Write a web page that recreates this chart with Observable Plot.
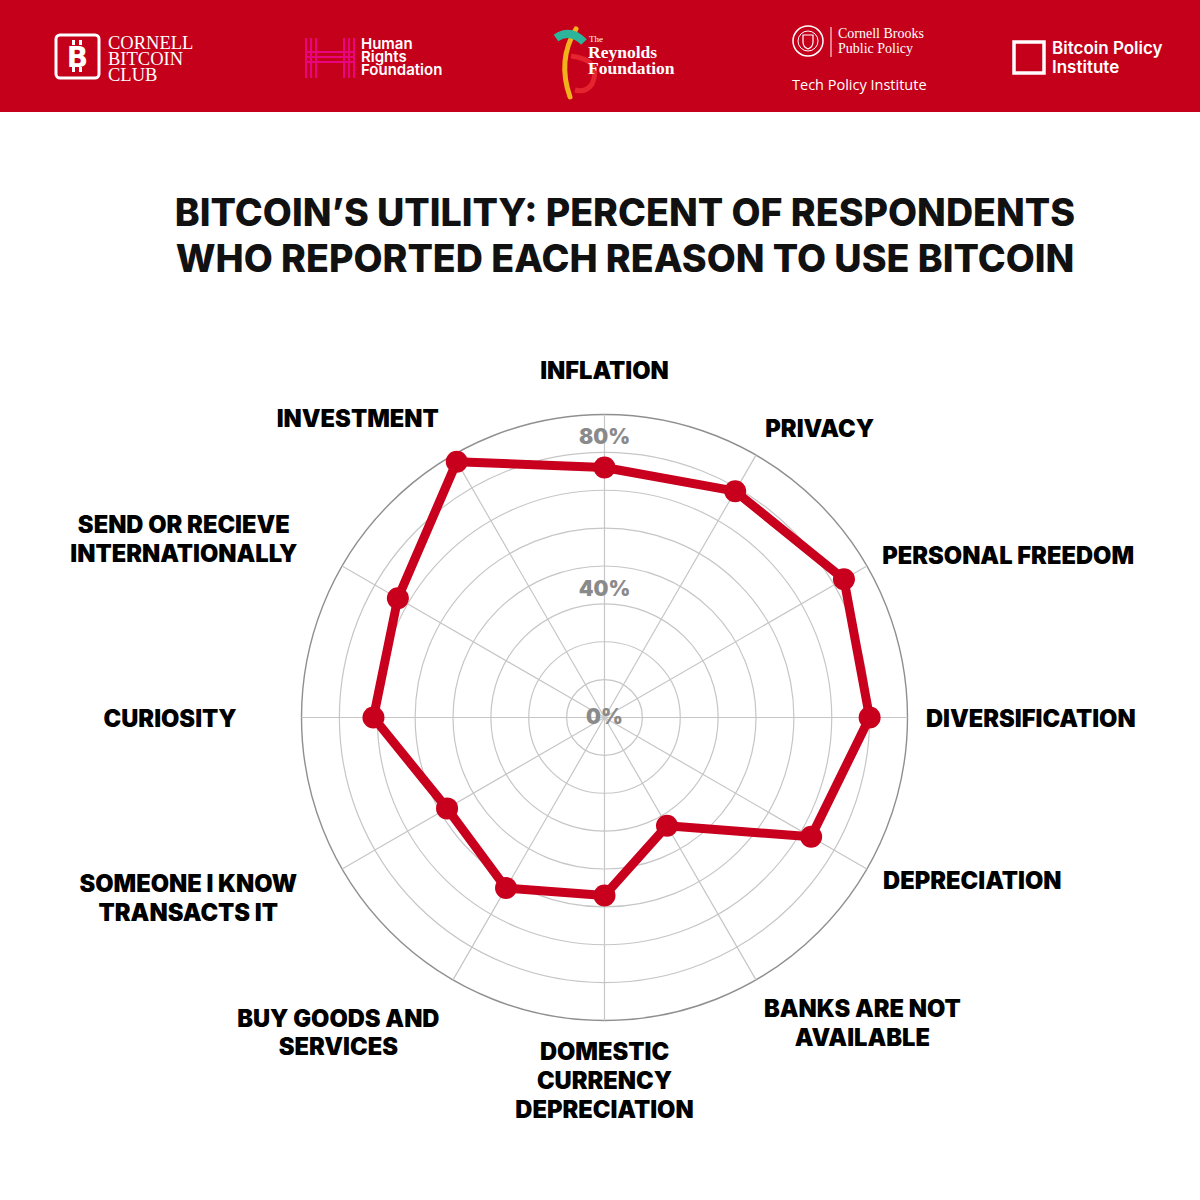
<!DOCTYPE html>
<html>
<head>
<meta charset="utf-8">
<script src="https://cdn.jsdelivr.net/npm/d3@7"></script>
<script src="https://cdn.jsdelivr.net/npm/@observablehq/plot@0.6"></script>
<style>
  html, body { margin: 0; padding: 0; background: #fff; }
  body { width: 1200px; height: 1200px; overflow: hidden; position: relative; font-family: Inter, "Noto Sans", sans-serif; }
  #header { position: absolute; left: 0; top: 0; }
  #title { position: absolute; left: 0; top: 190px; width: 1150px; padding-left: 50px; text-align: center; color: #111;
           font-family: Inter, "Noto Sans", sans-serif; font-weight: 800; line-height: 46px; }
  #chart { position: absolute; left: 0; top: 300px; }
  g[aria-label="category-labels"] text { letter-spacing: -0.02em; }
</style>
</head>
<body>
<svg id="header" width="1200" height="112" xmlns="http://www.w3.org/2000/svg">
  <rect width="1200" height="112" fill="#c5001a"/>
  <!-- Cornell Bitcoin Club -->
  <rect x="56" y="35" width="43" height="43" rx="4" fill="none" stroke="#fff" stroke-width="3"/>
  <text x="77.5" y="67" text-anchor="middle" font-family="'DejaVu Sans', sans-serif" font-weight="bold" font-size="28" fill="#fff">B</text>
  <rect x="72" y="40" width="3" height="5" fill="#fff"/><rect x="79" y="40" width="3" height="5" fill="#fff"/>
  <rect x="72" y="67" width="3" height="5" fill="#fff"/><rect x="79" y="67" width="3" height="5" fill="#fff"/>
  <text font-family="'Liberation Serif', serif" font-size="18.5" fill="#fff">
    <tspan x="108" y="49">CORNELL</tspan><tspan x="108" y="65">BITCOIN</tspan><tspan x="108" y="81">CLUB</tspan>
  </text>
  <!-- Human Rights Foundation -->
  <g fill="#e8057f">
    <rect x="305" y="38" width="2" height="40"/><rect x="310" y="38" width="2" height="40"/><rect x="315" y="38" width="2" height="40"/>
    <rect x="343" y="38" width="2" height="40"/><rect x="348" y="38" width="2" height="40"/><rect x="353" y="38" width="2" height="40"/>
    <rect x="305" y="51" width="50" height="2"/><rect x="305" y="56" width="50" height="2"/><rect x="305" y="61" width="50" height="2"/>
  </g>
  <text font-family="Inter, sans-serif" font-weight="600" font-size="15" fill="#fff">
    <tspan x="361" y="49">Human</tspan><tspan x="361" y="62">Rights</tspan><tspan x="361" y="75">Foundation</tspan>
  </text>
  <!-- Reynolds Foundation -->
  <path d="M576,29 Q557,60 570,97" fill="none" stroke="#f2b21b" stroke-width="5" stroke-linecap="round"/>
  <path d="M571,56 Q603,60 592,84 Q586,93 575,90" fill="none" stroke="#e4242f" stroke-width="5"/>
  <path d="M556,38 Q570,28 584,42" fill="none" stroke="#2db59b" stroke-width="8"/>
  <text font-family="'Liberation Serif', serif" fill="#fff">
    <tspan x="589" y="42" font-size="9">The</tspan>
    <tspan x="588" y="58" font-size="17.5" font-weight="bold">Reynolds</tspan>
    <tspan x="588" y="74" font-size="17.5" font-weight="bold">Foundation</tspan>
  </text>
  <!-- Cornell Brooks -->
  <circle cx="808" cy="41" r="15" fill="none" stroke="#fff" stroke-width="1.5"/>
  <circle cx="808" cy="41" r="10" fill="none" stroke="#fff" stroke-width="1"/>
  <path d="M803,35 L813,35 L813,42 Q813,47 808,49 Q803,47 803,42 Z" fill="none" stroke="#fff" stroke-width="1.2"/>
  <line x1="831" y1="27" x2="831" y2="57" stroke="#fff" stroke-width="1"/>
  <text font-family="'Liberation Serif', serif" font-size="14" fill="#fff">
    <tspan x="838" y="38">Cornell Brooks</tspan><tspan x="838" y="53">Public Policy</tspan>
  </text>
  <text x="792" y="90" font-family="'Open Sans', sans-serif" font-size="14.5" fill="#fff">Tech Policy Institute</text>
  <!-- Bitcoin Policy Institute -->
  <rect x="1014" y="42" width="30" height="31" fill="none" stroke="#fff" stroke-width="3.5"/>
  <text font-family="Inter, sans-serif" font-weight="600" font-size="17" fill="#fff">
    <tspan x="1052" y="54">Bitcoin Policy</tspan><tspan x="1052" y="73">Institute</tspan>
  </text>
</svg>

<div id="title"></div>
<div id="chart"></div>

<script>
// ---------- data ----------
const titleLines = ["BITCOIN’S UTILITY: PERCENT OF RESPONDENTS", "WHO REPORTED EACH REASON TO USE BITCOIN"];
const categories = [
  "INFLATION", "PRIVACY", "PERSONAL FREEDOM", "DIVERSIFICATION", "DEPRECIATION",
  "BANKS ARE NOT\nAVAILABLE", "DOMESTIC\nCURRENCY\nDEPRECIATION", "BUY GOODS AND\nSERVICES",
  "SOMEONE I KNOW\nTRANSACTS IT", "CURIOSITY", "SEND OR RECIEVE\nINTERNATIONALLY", "INVESTMENT"
];
const percents = [66, 69, 73, 70, 63, 33, 47, 52, 48, 61, 63, 78];
const rings = [10, 20, 30, 40, 50, 60, 70];
const outerRing = [80];
const tickValues = [0, 40, 80];
const tickLabels = ["0%", "40%", "80%"];

// ---------- layout ----------
const RED = "#c8001e";
const maxV = 80, radiusPx = 303, cxPx = 604, cyPx = 417;
const k = radiusPx / maxV;
const rad = a => a * Math.PI / 180;
const step = 360 / categories.length;

const canvas = document.createElement("canvas");
const ctx = canvas.getContext("2d");
function measure(t, weight, size, family, lsEm) {
  ctx.font = `${weight} ${size}px ${family}`;
  return ctx.measureText(t).width + t.length * lsEm * size;
}

// Title
const titleFamily = "Inter, 'Noto Sans', sans-serif";
const tw = measure(titleLines[1], 800, 100, titleFamily, 0);
const titleSize = 100 * 899 / tw;
const titleEl = document.getElementById("title");
titleEl.style.fontSize = titleSize + "px";
titleEl.innerHTML = titleLines.join("<br>");

// Category labels font
const labelFamily = "Inter, Lato, 'DejaVu Sans', sans-serif";
const lsEm = -0.02;
const labelSize = 0.97 * 21 * 252 / measure("PERSONAL FREEDOM", 900, 21, labelFamily, lsEm);
const linePx = 29;

const rows = categories.map((c, i) => {
  const a = rad(i * step);
  return {category: c, value: percents[i], x: percents[i] * Math.sin(a), y: percents[i] * Math.cos(a),
          sx: Math.sin(a), sy: -Math.cos(a)};
});

const labelRows = rows.map(d => {
  const lines = d.category.split("\n");
  const w = Math.max(...lines.map(l => measure(l, 900, labelSize, labelFamily, lsEm)));
  const h = (lines.length - 1) * linePx + 0.72 * labelSize;
  const hx = d.sx > 0.2 ? 1 : d.sx < -0.2 ? -1 : 0;
  const hy = d.sy > 0.6 ? 1 : d.sy < -0.6 ? -1 : 0;
  const R0 = 325 + 45 * Math.pow(Math.max(0, -d.sx), 2) + (hx === 0 && hy === -1 ? 14 : 0);
  const px = R0 * d.sx + hx * w / 2;
  const py = R0 * d.sy + hy * h / 2;
  return {text: d.category, x: px / k, y: -py / k};
});

const spokes = rows.map(d => ({x2: maxV * d.sx, y2: -maxV * d.sy}));

const chart = Plot.plot({
  width: 1200,
  height: 900,
  margin: 0,
  style: {fontFamily: labelFamily, background: "transparent"},
  x: {domain: [-maxV, maxV], range: [cxPx - radiusPx, cxPx + radiusPx], axis: null},
  y: {domain: [-maxV, maxV], range: [cyPx + radiusPx, cyPx - radiusPx], axis: null},
  r: {type: "linear", domain: [0, maxV], range: [0, radiusPx]},
  marks: [
    Plot.dot(rings, {x: d => 0, y: d => 0, r: d => d, fill: "none", stroke: "#c6c6c6", strokeWidth: 1.2}),
    Plot.dot(outerRing, {x: d => 0, y: d => 0, r: d => d, fill: "none", stroke: "#8f8f8f", strokeWidth: 1.4}),
    Plot.link(spokes, {x1: d => 0, y1: d => 0, x2: "x2", y2: "y2", stroke: "#c6c6c6", strokeWidth: 1.2}),
    Plot.text(tickValues.filter(v => v === 0), {x: d => 0, y: d => d, text: d => tickLabels[tickValues.indexOf(d)],
      fill: "#8a8a8a", fontSize: 21, fontWeight: 900, lineAnchor: "middle", textAnchor: "middle"}),
    Plot.text(tickValues.filter(v => v !== 0), {x: d => 0, y: d => d, text: d => tickLabels[tickValues.indexOf(d)],
      fill: "#8a8a8a", fontSize: 21, fontWeight: 900, lineAnchor: "top", textAnchor: "middle", dy: 15}),
    Plot.line(rows, {x: "x", y: "y", curve: "linear-closed", stroke: RED, strokeWidth: 9, strokeLinejoin: "round"}),
    Plot.dot(rows, {x: "x", y: "y", r: 11, fill: RED, stroke: "none"}),
    Plot.text(labelRows, {x: "x", y: "y", text: "text", textAnchor: "middle", lineAnchor: "middle",
      fontSize: labelSize, fontWeight: 900, lineHeight: linePx / labelSize, fill: "#000",
      fontFamily: labelFamily, ariaLabel: "category-labels"})
  ]
});
document.getElementById("chart").appendChild(chart);
</script>
</body>
</html>
